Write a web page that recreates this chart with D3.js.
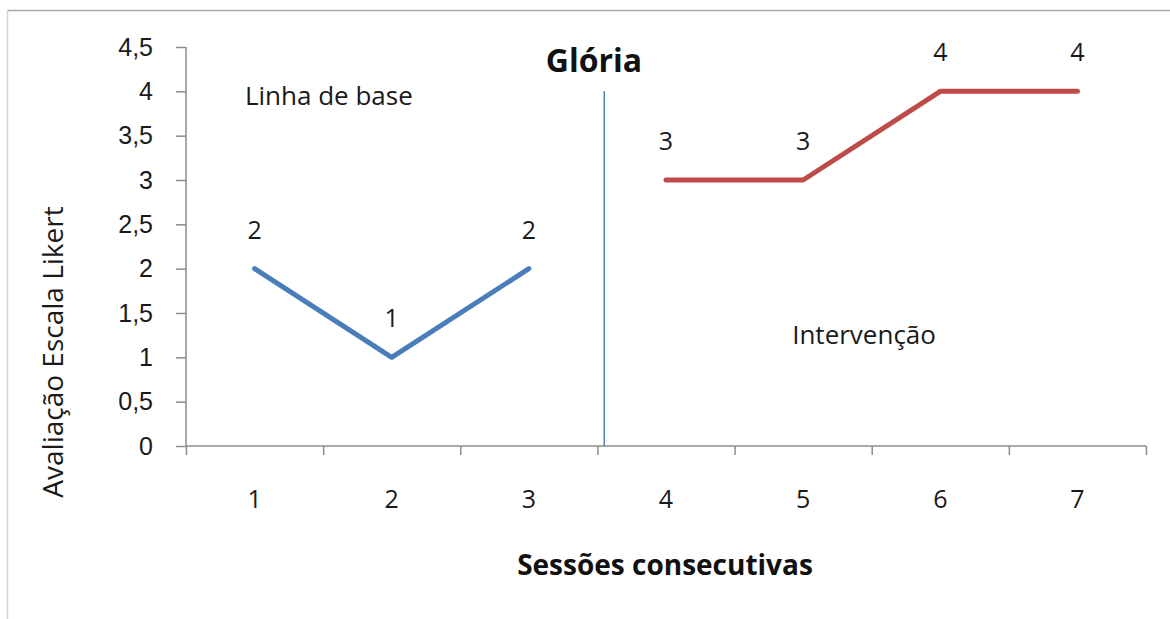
<!DOCTYPE html>
<html>
<head>
<meta charset="utf-8">
<script src="https://cdn.jsdelivr.net/npm/d3@7"></script>
<style>
  body { margin: 0; background: #fff; }
  svg { display: block; font-family: "Open Sans", "Noto Sans", sans-serif; }
  .axis path, .axis line { stroke: #8c8c8c; stroke-width: 1.5; }
  .axis text { fill: #1a1a1a; }
</style>
</head>
<body>
<svg id="chart"></svg>
<script>
// sessions and Likert ratings
const baselineSessions = [1, 2, 3];
const baselineScores = [2, 1, 2];
const interventionSessions = [4, 5, 6, 7];
const interventionScores = [3, 3, 4, 4];
const sessionLabels = ["1", "2", "3", "4", "5", "6", "7"];
const yTicks = [0, 0.5, 1, 1.5, 2, 2.5, 3, 3.5, 4, 4.5];
// phase change line sits a bit after session 3.5, up to rating 4
const phaseChange = { session: 3.55, top: 4 };

class PhaseChart {

  constructor(_config) {
    this.config = {
      parentElement: _config.parentElement,
      containerWidth: _config.containerWidth || 1170,
      containerHeight: _config.containerHeight || 619,
      margin: { top: 47, bottom: 173, right: 24, left: 186 }
    }
    this.initVis();
  }

  initVis() {
    let vis = this;

    vis.width = vis.config.containerWidth - vis.config.margin.left - vis.config.margin.right;
    vis.height = vis.config.containerHeight - vis.config.margin.top - vis.config.margin.bottom;

    vis.svg = d3.select(vis.config.parentElement)
        .attr('width', vis.config.containerWidth)
        .attr('height', vis.config.containerHeight);

    // outer frame: only top and left edges show
    vis.svg.append('line')
        .attr('x1', 7).attr('x2', vis.config.containerWidth)
        .attr('y1', 10.5).attr('y2', 10.5)
        .attr('stroke', '#a6a6a6').attr('stroke-width', 1.5);
    vis.svg.append('line')
        .attr('x1', 7.5).attr('x2', 7.5)
        .attr('y1', 10).attr('y2', vis.config.containerHeight)
        .attr('stroke', '#d4d4d4').attr('stroke-width', 1.5);

    vis.chart = vis.svg.append('g')
        .attr('transform', `translate(${vis.config.margin.left},${vis.config.margin.top})`);

    vis.xScale = d3.scaleLinear()
        .domain([0.5, sessionLabels.length + 0.5])
        .range([0, vis.width]);

    vis.yScale = d3.scaleLinear()
        .domain([0, 4.5])
        .range([vis.height, 0]);

    // y axis
    vis.chart.append('g')
        .attr('class', 'axis')
        .call(d3.axisLeft(vis.yScale)
            .tickValues(yTicks)
            .tickSize(10)
            .tickPadding(23)
            .tickFormat(d => String(d).replace('.', ',')))
        .call(g => g.select('.domain').attr('d', `M0,0V${vis.height}`))
        .selectAll('text')
            .style('font-size', '25px');

    // x axis: ticks between the sessions, labels under the sessions
    let boundaries = d3.range(0, sessionLabels.length + 1).map(i => i + 0.5);
    vis.chart.append('g')
        .attr('class', 'axis')
        .attr('transform', `translate(0,${vis.height})`)
        .call(d3.axisBottom(vis.xScale)
            .tickValues(boundaries)
            .tickSize(9)
            .tickFormat(''))
        .call(g => g.select('.domain').attr('d', `M0,0H${vis.width}`));

    vis.chart.append('g')
        .selectAll('text')
        .data(sessionLabels)
        .join('text')
            .attr('x', (d, i) => vis.xScale(i + 1))
            .attr('y', vis.height + 62)
            .attr('text-anchor', 'middle')
            .style('font-size', '25px')
            .attr('fill', '#1a1a1a')
            .text(d => d);

    // phase change line
    vis.chart.append('line')
        .attr('x1', vis.xScale(phaseChange.session))
        .attr('x2', vis.xScale(phaseChange.session))
        .attr('y1', vis.yScale(phaseChange.top))
        .attr('y2', vis.yScale(0))
        .attr('stroke', '#4f81bd')
        .attr('stroke-width', 1.5);

    vis.line = d3.line()
        .x(d => vis.xScale(d.session))
        .y(d => vis.yScale(d.score));

    let baseline = baselineSessions.map((s, i) => ({ session: s, score: baselineScores[i] }));
    let intervention = interventionSessions.map((s, i) => ({ session: s, score: interventionScores[i] }));

    vis.drawSeries(baseline, '#4a7ebb');
    vis.drawSeries(intervention, '#be4b48');

    // titles and phase names
    vis.svg.append('text')
        .attr('x', 594)
        .attr('y', 72)
        .attr('text-anchor', 'middle')
        .attr('font-weight', 'bold')
        .style('font-size', '32px')
        .attr('fill', '#111')
        .text('Glória');

    vis.chart.append('text')
        .attr('x', vis.xScale(0.93))
        .attr('y', vis.yScale(4) + 14)
        .style('font-size', '26px')
        .attr('fill', '#1a1a1a')
        .text('Linha de base');

    vis.chart.append('text')
        .attr('x', vis.xScale(4.92))
        .attr('y', vis.yScale(1.15))
        .style('font-size', '26px')
        .attr('fill', '#1a1a1a')
        .text('Intervenção');

    vis.svg.append('text')
        .attr('x', 665)
        .attr('y', 575)
        .attr('text-anchor', 'middle')
        .attr('font-weight', 'bold')
        .style('font-size', '28px')
        .attr('fill', '#111')
        .text('Sessões consecutivas');

    vis.svg.append('text')
        .attr('transform', 'translate(63,352) rotate(-90)')
        .attr('text-anchor', 'middle')
        .style('font-size', '28px')
        .attr('fill', '#1a1a1a')
        .text('Avaliação Escala Likert');
  }

  drawSeries(data, color) {
    let vis = this;

    vis.chart.append('path')
        .datum(data)
        .attr('fill', 'none')
        .attr('stroke', color)
        .attr('stroke-width', 5)
        .attr('stroke-linecap', 'round')
        .attr('stroke-linejoin', 'round')
        .attr('d', vis.line);

    vis.chart.append('g')
        .selectAll('text')
        .data(data)
        .join('text')
            .attr('x', d => vis.xScale(d.session))
            .attr('y', d => vis.yScale(d.score) - 30)
            .attr('text-anchor', 'middle')
            .style('font-size', '25px')
            .attr('fill', '#1a1a1a')
            .text(d => d.score);
  }
}

new PhaseChart({ parentElement: '#chart' });
</script>
</body>
</html>
